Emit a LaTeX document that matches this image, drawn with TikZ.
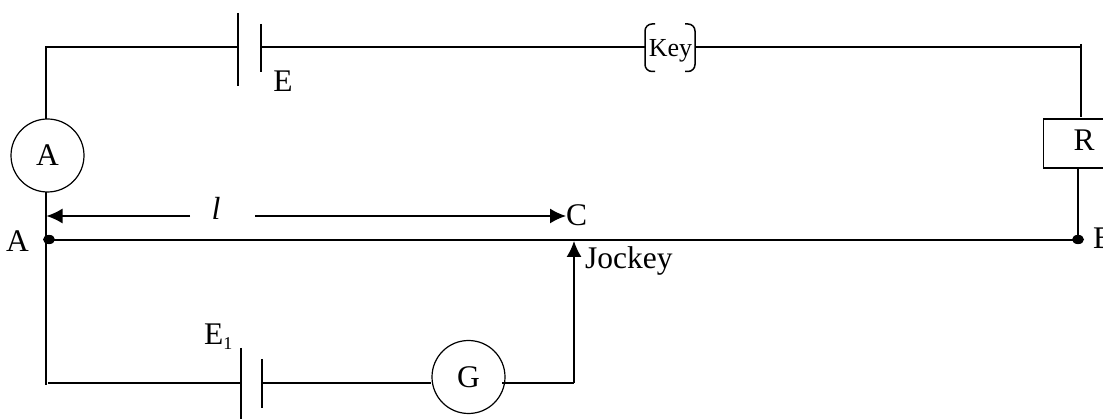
\documentclass[tikz,border=0pt]{standalone}
\usepackage{fontspec}
\setmainfont{Liberation Serif}
\usetikzlibrary{arrows.meta}
\tikzset{
  wire/.style={draw=black,line width=1.5pt},
  meter/.style={circle,draw=black,line width=1.2pt,minimum size=73pt,inner sep=0pt,font=\fontsize{31.5}{32}\selectfont},
  lab/.style={inner sep=0pt,font=\fontsize{31.5}{32}\selectfont},
  tip/.style={-{Latex[length=16pt,width=15pt]}}
}
\begin{document}
\begin{tikzpicture}[x=1pt,y=-1pt]
\useasboundingbox (0,0) rectangle (1103,419);
% junction points
\coordinate (tl) at (46,47);
\coordinate (tr) at (1081,47);
\coordinate (trt) at (1081,44);
\coordinate (bl) at (46,385);
\coordinate (blw) at (48,383);
\coordinate (jc) at (574,383);
\coordinate (jt) at (574,241);
\coordinate (la) at (46.5,216);
\coordinate (lb) at (190,216);
\coordinate (lc) at (255,216);
\coordinate (ld) at (566,216);
\coordinate (pa) at (46,240);
\coordinate (pb) at (1078,240);
\coordinate (amt) at (46,119);
\coordinate (amb) at (46,192);
\coordinate (rt) at (1081,117);
\coordinate (rb) at (1078,168);
\coordinate (gl) at (431,383);
\coordinate (gr) at (502,383);
% plates
\coordinate (e1a) at (238,13); \coordinate (e1b) at (238,86);
\coordinate (e2a) at (261,24); \coordinate (e2b) at (261,72);
\coordinate (e1m) at (238,47); \coordinate (e2m) at (261,47);
\coordinate (f1a) at (241,348); \coordinate (f1b) at (241,419);
\coordinate (f2a) at (262,359); \coordinate (f2b) at (262,408);
\coordinate (f1m) at (241,383); \coordinate (f2m) at (262,383);
% components
\node[meter] (ammeter) at (47.5,155.5) {A};
\node[meter] (galv) at (468.5,377) {G};
\node[draw=black,line width=1.2pt,minimum width=70pt,minimum height=49pt,inner sep=0pt,anchor=west] (res) at (1043,143.5) {};
\node[lab,anchor=base] (rlab) at (1084,151) {R};
\node[inner sep=0pt,font=\fontsize{26}{26}\selectfont,anchor=base] (key) at (670.5,57) {Key};
\coordinate (kl) at (645,47); \coordinate (kr) at (695,47);
% labels
\node[lab,anchor=base] (elab) at (283,92) {E};
\node[lab,anchor=base] (alab) at (17.5,252) {A};
\node[lab,anchor=base west] (blab) at (1093,249) {B};
\node[lab,font=\fontsize{32}{32}\itshape\selectfont,anchor=base] (llab) at (216,220) {l};
\node[lab,anchor=base west] (clab) at (566,226) {C};
\node[lab,anchor=base west] (jlab) at (585,269) {Jockey};
\node[lab,anchor=base west] (e1lab) at (204,345) {E\raisebox{-5pt}{\fontsize{18}{18}\selectfont 1}};
% top wire
\draw[wire] (amt) -- (tl) -- (e1m);
\draw[wire] (e2m) -- (kl);
\draw[wire] (kr) -- (tr);
\draw[wire] (trt) -- (tr) -- (rt);
\draw[wire] (rb) -- (pb);
% plates
\draw[wire] (e1a) -- (e1b);
\draw[wire] (e2a) -- (e2b);
\draw[wire] (f1a) -- (f1b);
\draw[wire] (f2a) -- (f2b);
% key brackets
\draw[wire,rounded corners=7pt] (655,24) -- (645,24) -- (645,71.5) -- (655,71.5);
\draw[wire,rounded corners=7pt] (685,24) -- (695,24) -- (695,71.5) -- (685,71.5);
% lower circuit
\draw[wire] (amb) -- (bl);
\draw[wire] (blw) -- (f1m);
\draw[wire] (f2m) -- (gl);
\draw[wire] (gr) -- (jc);
\draw[wire,tip] (jc) -- (jt);
% slide wire
\draw[wire] (pa) -- (pb);
\fill (49,239.5) ellipse (6pt and 4.6pt);
\fill (1078,239.5) ellipse (6pt and 4.6pt);
% length arrow
\draw[wire,tip] (lb) -- (la);
\draw[wire,tip] (lc) -- (ld);
\end{tikzpicture}
\end{document}
